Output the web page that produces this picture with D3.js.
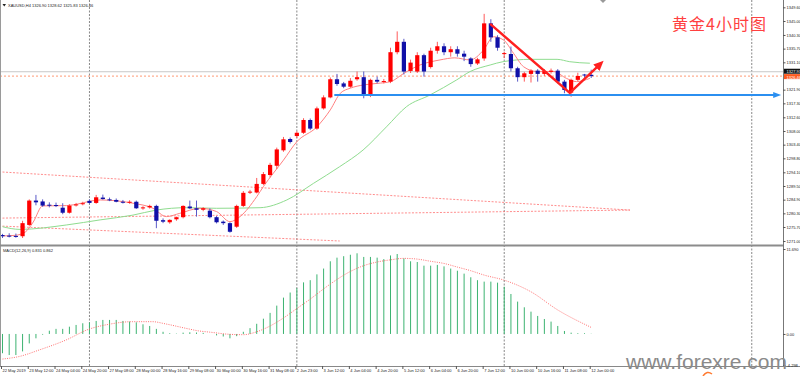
<!DOCTYPE html>
<html>
<head>
<meta charset="utf-8">
<script src="https://cdnjs.cloudflare.com/ajax/libs/d3/7.8.5/d3.min.js"></script>
<style>
  body { margin: 0; background: #fff; }
  svg { display: block; }
</style>
</head>
<body>
<div id="chart"></div>
<script>
// XAUUSD H4 candles, one value per bar
var opens = [
  1273.0, 1272.8, 1272.7, 1272.6, 1276.4, 1284.6, 1284.3, 1283.2, 1283.1, 1282.2,
  1280.5, 1283.0, 1283.4, 1284.5, 1283.8, 1285.6, 1285.0, 1284.8, 1284.2, 1284.0,
  1284.2, 1282.1, 1282.3, 1282.8, 1278.0, 1277.3, 1278.3, 1279.0, 1282.6, 1282.0,
  1281.5, 1281.2, 1279.0, 1277.5, 1277.0, 1275.8, 1282.8, 1287.4, 1287.3, 1290.2,
  1293.2, 1296.3, 1301.5, 1305.3, 1306.3, 1307.4, 1311.7, 1308.8, 1315.6, 1319.3,
  1325.4, 1324.0, 1322.9, 1325.4, 1326.1, 1320.1, 1325.2, 1324.5, 1324.6, 1334.5,
  1338.0, 1328.2, 1328.0, 1333.5, 1329.5, 1335.0, 1336.5, 1334.5, 1335.5, 1334.0,
  1332.4, 1330.7, 1332.4, 1344.2, 1339.5, 1334.1, 1333.9, 1329.1, 1326.1, 1327.2,
  1328.3, 1327.2, 1327.9, 1328.3, 1324.6, 1320.9, 1325.2, 1327.0, 1326.90
];
var highs = [
  1273.4, 1273.6, 1273.5, 1277.8, 1285.0, 1286.5, 1285.0, 1284.0, 1283.9, 1283.7,
  1283.4, 1283.8, 1284.2, 1285.0, 1286.5, 1286.6, 1285.6, 1285.3, 1284.8, 1284.7,
  1284.6, 1282.7, 1283.2, 1283.2, 1278.6, 1278.3, 1279.2, 1283.0, 1284.6, 1284.6,
  1282.4, 1282.0, 1279.4, 1277.9, 1277.3, 1283.2, 1287.8, 1288.2, 1292.2, 1294.2,
  1297.3, 1302.4, 1306.0, 1305.8, 1307.9, 1312.3, 1312.2, 1316.2, 1320.0, 1326.0,
  1327.2, 1324.5, 1325.8, 1328.0, 1328.0, 1325.6, 1326.3, 1325.5, 1336.0, 1341.5,
  1339.0, 1332.0, 1334.5, 1334.0, 1336.0, 1338.0, 1337.5, 1336.5, 1336.5, 1335.0,
  1332.8, 1332.6, 1347.4, 1345.6, 1340.2, 1334.7, 1336.4, 1329.6, 1327.9, 1328.8,
  1328.8, 1328.8, 1329.0, 1328.8, 1325.2, 1325.6, 1327.6, 1327.2, 1328.62
];
var lows = [
  1272.0, 1272.2, 1272.1, 1272.0, 1276.0, 1283.0, 1282.5, 1282.3, 1282.4, 1280.0,
  1280.2, 1282.6, 1283.0, 1283.5, 1283.5, 1284.9, 1284.4, 1284.0, 1283.6, 1283.5,
  1281.8, 1281.5, 1281.9, 1275.3, 1277.0, 1276.8, 1277.8, 1278.6, 1281.8, 1279.2,
  1281.0, 1278.6, 1276.9, 1276.4, 1273.8, 1275.4, 1282.4, 1286.8, 1287.0, 1289.8,
  1292.4, 1295.2, 1301.0, 1303.8, 1305.6, 1307.0, 1308.3, 1308.4, 1315.2, 1319.0,
  1323.2, 1322.4, 1322.5, 1324.9, 1319.0, 1319.4, 1324.0, 1324.0, 1324.1, 1333.8,
  1327.0, 1327.5, 1327.5, 1326.3, 1329.0, 1334.0, 1333.5, 1333.0, 1333.0, 1331.5,
  1329.6, 1330.2, 1331.6, 1338.0, 1335.0, 1332.5, 1328.0, 1324.6, 1324.6, 1324.3,
  1324.6, 1326.5, 1327.3, 1324.0, 1320.7, 1319.5, 1324.8, 1325.9, 1325.83
];
var closes = [
  1272.6, 1272.5, 1272.4, 1277.0, 1284.6, 1284.0, 1282.9, 1283.0, 1283.0, 1280.5,
  1282.9, 1283.3, 1283.7, 1283.8, 1285.7, 1285.1, 1284.7, 1284.2, 1284.0, 1284.2,
  1282.0, 1282.3, 1282.8, 1277.8, 1277.5, 1278.1, 1279.0, 1282.8, 1282.0, 1281.5,
  1282.0, 1279.0, 1277.3, 1277.0, 1274.1, 1282.8, 1287.2, 1287.6, 1290.2, 1293.5,
  1296.6, 1301.8, 1305.2, 1304.3, 1307.4, 1311.7, 1308.8, 1315.6, 1319.3, 1325.4,
  1323.8, 1322.9, 1324.9, 1326.1, 1320.1, 1325.2, 1324.6, 1324.8, 1334.5, 1338.0,
  1328.0, 1331.0, 1333.5, 1328.0, 1335.0, 1336.5, 1334.5, 1335.5, 1334.0, 1333.0,
  1330.5, 1332.1, 1344.2, 1339.5, 1336.0, 1334.2, 1329.1, 1326.1, 1327.4, 1328.3,
  1327.2, 1328.1, 1328.3, 1324.6, 1321.8, 1325.2, 1326.5, 1326.8, 1326.46
];

// moving averages, sampled by bar index
var fastMaIdx = [0, 1.9, 3.4, 4.6, 6, 9.6, 14.6, 19.5, 22.5, 24.5, 26.5, 29.5, 32, 34, 35.5, 38, 39, 42, 44, 47, 49, 50.5, 52, 54, 56, 58, 60, 62.4, 65.4, 67.6, 69.9, 71.9, 73.4, 74.9, 76.4, 77.9, 79.9, 82.4, 84.3, 85.8, 87.8];
var fastMaVal = [1272.7, 1272.9, 1274.0, 1277.4, 1282.8, 1282.9, 1284.8, 1283.7, 1282.0, 1279.2, 1280.3, 1282.0, 1280.9, 1277.5, 1279.2, 1285.9, 1289.3, 1298.2, 1304.4, 1309.4, 1315.1, 1320.7, 1322.4, 1323.5, 1324.0, 1324.6, 1327.4, 1330.2, 1331.9, 1332.6, 1331.9, 1335.2, 1339.7, 1338.6, 1334.1, 1329.6, 1328.0, 1328.0, 1325.7, 1324.6, 1325.7];
var slowMaIdx = [0, 2.6, 9.6, 14.6, 19.5, 23, 27.5, 32, 38.5, 42.5, 46.5, 50.4, 53.9, 57.4, 60.4, 63.9, 67.9, 69.9, 72.9, 74.8, 78.9, 82.9, 84.8, 87.8];
var slowMaVal = [1275.8, 1274.9, 1276.4, 1278.1, 1279.7, 1281.4, 1282.2, 1282.0, 1282.2, 1284.8, 1290.4, 1296.0, 1301.6, 1309.4, 1316.2, 1320.1, 1325.2, 1328.0, 1330.2, 1331.3, 1332.1, 1332.1, 1331.3, 1330.8];

// MACD(12,26,9)
var macdHist = [
  -2.65, -2.9, -2.9, -2.4, -1.3, -0.6, -0.1, 0.45, 0.7, 0.7,
  1.0, 1.24, 1.47, 1.56, 1.79, 1.93, 1.93, 1.93, 1.79, 1.7,
  1.6, 1.33, 1.1, 0.7, 0.3, 0.1, 0.05, 0.18, 0.23, 0.2,
  0.15, 0.0, -0.2, -0.35, -0.6, -0.3, 0.3, 0.8, 1.4, 2.1,
  2.9, 3.9, 5.0, 5.7, 6.3, 7.1, 7.4, 8.2, 9.0, 10.0,
  10.5, 10.7, 10.9, 11.1, 10.6, 10.6, 10.5, 10.3, 10.8, 11.0,
  10.4, 10.0, 9.9, 9.4, 9.4, 9.5, 9.3, 9.0, 8.7, 8.3,
  7.8, 7.4, 7.2, 7.2, 7.06, 6.5, 5.5, 4.45, 3.67, 3.07,
  2.48, 2.06, 1.7, 1.1, 0.41, 0.18, 0.1, 0.1, 0.03
];
var signalIdx = [0, 2.5, 5.5, 9.5, 12.9, 15.9, 19.4, 22.4, 24.4, 27.4, 29.4, 31, 34, 36, 38, 40, 42, 44, 46, 48, 50, 52, 54, 56, 58, 60, 62, 64, 66, 68, 70, 72, 75, 79, 83, 88];
var signalVal = [-3.45, -3.1, -2.2, -0.83, 0.65, 1.33, 1.69, 1.69, 1.38, 0.78, 0.41, 0.25, -0.05, -0.1, 0.3, 1.1, 2.2, 3.5, 4.8, 6.2, 7.5, 8.6, 9.4, 9.9, 10.2, 10.4, 10.3, 10.0, 9.7, 9.2, 8.7, 8.1, 7.4, 5.8, 3.3, 0.9];

// axis labels
var timeLabels = ['22 May 2019', '23 May 12:00', '24 May 04:00', '24 May 20:00', '27 May 08:00', '28 May 00:00',
  '28 May 16:00', '29 May 08:00', '30 May 00:00', '30 May 16:00', '31 May 08:00', '2 Jun 23:00',
  '3 Jun 12:00', '4 Jun 04:00', '4 Jun 20:00', '5 Jun 12:00', '6 Jun 04:00', '6 Jun 20:00',
  '7 Jun 12:00', '10 Jun 00:00', '10 Jun 16:00', '11 Jun 08:00', '12 Jun 00:00'];
var priceTicks = [1349.60, 1345.00, 1340.30, 1335.70, 1331.10, 1321.90, 1317.30, 1312.60, 1308.00, 1303.40,
  1298.80, 1294.10, 1289.50, 1284.90, 1280.30, 1275.70, 1271.00];
var macdTicks = [11.69, 0, -4.298];
var macdTickText = ['11.690', '0.00', '-4.298'];
var separators = [13, 44, 75, 112];

// drawn objects
var trendFrom = [[0, 1294.2], [0, 1278.7], [0, 1276.0]];
var trendTo = [[93.8, 1281.4], [93.8, 1281.4], [50.4, 1271.0]];
var supportPrice = 1320.1;
var supportSpan = [49.6, 115.5];
var arrowIdx = [72.9, 84.8, 89.1];
var arrowPrice = [1344.0, 1320.8, 1330.0];
var markerPrice = 1327.93;
var bidPrice = 1326.46;

var width = 800;
var height = 376;
var plotRight = 783;
var mainBottom = 245;
var macdBottom = 366;
var bull = '#ff0000';
var bear = '#1010a8';

var svg = d3.select('#chart').append('svg')
  .attr('width', width)
  .attr('height', height)
  .style('font-family', "'Liberation Sans', Arial, sans-serif");

var x = d3.scaleLinear().domain([0, 88]).range([2.5, 591.2]);
var y = d3.scaleLinear().domain([1269.65, 1352.06]).range([mainBottom, 0]);
var ym = d3.scaleLinear().domain([-4.298, 11.69]).range([365.2, 249]);

var defs = svg.append('defs');
defs.append('clipPath').attr('id', 'clip-main')
  .append('rect').attr('x', 1).attr('y', 0).attr('width', plotRight - 1).attr('height', mainBottom);
defs.append('clipPath').attr('id', 'clip-macd')
  .append('rect').attr('x', 1).attr('y', mainBottom + 1).attr('width', plotRight - 1).attr('height', macdBottom - mainBottom - 1);

defs.append('marker')
  .attr('id', 'head-blue')
  .attr('markerUnits', 'userSpaceOnUse')
  .attr('markerWidth', 10).attr('markerHeight', 10)
  .attr('refX', 2).attr('refY', 5)
  .attr('orient', 'auto')
  .append('path').attr('d', 'M0,2 L8,5 L0,8 Z').style('fill', '#2b8ff0');
defs.append('marker')
  .attr('id', 'head-red')
  .attr('markerUnits', 'userSpaceOnUse')
  .attr('markerWidth', 12).attr('markerHeight', 12)
  .attr('refX', 3).attr('refY', 6)
  .attr('orient', 'auto')
  .append('path').attr('d', 'M0,1.5 L10,6 L0,10.5 Z').style('fill', '#ff2020');

// period separators
svg.append('g').selectAll('line')
  .data(separators)
  .enter()
  .append('line')
  .attr('x1', function (d) { return x(d); })
  .attr('x2', function (d) { return x(d); })
  .attr('y1', 0)
  .attr('y2', macdBottom)
  .style('stroke', '#7a7a7a')
  .style('stroke-width', 0.9)
  .style('stroke-dasharray', '2,1.5');

var main = svg.append('g').attr('clip-path', 'url(#clip-main)');

// price lines
main.append('line')
  .attr('x1', 0).attr('x2', plotRight)
  .attr('y1', y(markerPrice)).attr('y2', y(markerPrice))
  .style('stroke', '#c8c8c8');
main.append('line')
  .attr('x1', 0).attr('x2', plotRight)
  .attr('y1', y(bidPrice)).attr('y2', y(bidPrice))
  .style('stroke', '#ff7f50')
  .style('stroke-width', 0.8)
  .style('stroke-dasharray', '2,2');

// triangle lines
main.append('g').selectAll('line')
  .data(trendFrom)
  .enter()
  .append('line')
  .attr('x1', function (d) { return x(d[0]); })
  .attr('y1', function (d) { return y(d[1]); })
  .attr('x2', function (d, i) { return x(trendTo[i][0]); })
  .attr('y2', function (d, i) { return y(trendTo[i][1]); })
  .style('stroke', '#ff7070')
  .style('stroke-width', 0.8)
  .style('stroke-dasharray', '2,1.5');

// moving averages
var maLine = d3.line()
  .x(function (d) { return x(d[0]); })
  .y(function (d) { return y(d[1]); })
  .curve(d3.curveMonotoneX);
main.append('path')
  .datum(d3.zip(slowMaIdx, slowMaVal))
  .attr('d', maLine)
  .style('fill', 'none')
  .style('stroke', '#8fdc8f')
  .style('stroke-width', 1);
main.append('path')
  .datum(d3.zip(fastMaIdx, fastMaVal))
  .attr('d', maLine)
  .style('fill', 'none')
  .style('stroke', '#ff8080')
  .style('stroke-width', 1);

// candles
var candles = main.append('g').selectAll('g')
  .data(d3.range(opens.length))
  .enter()
  .append('g');
candles.append('line')
  .attr('x1', function (i) { return x(i); })
  .attr('x2', function (i) { return x(i); })
  .attr('y1', function (i) { return y(highs[i]); })
  .attr('y2', function (i) { return y(lows[i]); })
  .style('stroke', function (i) { return closes[i] >= opens[i] ? '#ff5a5a' : '#5a5ac8'; })
  .style('stroke-width', 1);
candles.append('rect')
  .attr('x', function (i) { return x(i) - 2.1; })
  .attr('width', 4.2)
  .attr('y', function (i) { return y(Math.max(opens[i], closes[i])); })
  .attr('height', function (i) { return Math.max(1, Math.abs(y(opens[i]) - y(closes[i]))); })
  .style('fill', function (i) { return closes[i] >= opens[i] ? bull : bear; });

// support line and arrows
main.append('line')
  .attr('x1', x(supportSpan[0])).attr('x2', x(supportSpan[1]))
  .attr('y1', y(supportPrice)).attr('y2', y(supportPrice))
  .style('stroke', '#2b8ff0')
  .style('stroke-width', 2.2)
  .attr('marker-end', 'url(#head-blue)');
main.append('path')
  .datum(d3.zip(arrowIdx, arrowPrice))
  .attr('d', d3.line().x(function (d) { return x(d[0]); }).y(function (d) { return y(d[1]); }))
  .style('fill', 'none')
  .style('stroke', '#ff2020')
  .style('stroke-width', 2.4)
  .style('stroke-linejoin', 'miter')
  .attr('marker-end', 'url(#head-red)');

// MACD window
var macd = svg.append('g').attr('clip-path', 'url(#clip-macd)');
macd.selectAll('line.hist')
  .data(macdHist)
  .enter()
  .append('line')
  .attr('class', 'hist')
  .attr('x1', function (d, i) { return x(i); })
  .attr('x2', function (d, i) { return x(i); })
  .attr('y1', ym(0))
  .attr('y2', function (d) { return ym(d); })
  .style('stroke', '#3cb371')
  .style('stroke-width', 1);
macd.append('path')
  .datum(d3.zip(signalIdx, signalVal))
  .attr('d', d3.line()
    .x(function (d) { return x(d[0]); })
    .y(function (d) { return ym(d[1]); })
    .curve(d3.curveMonotoneX))
  .style('fill', 'none')
  .style('stroke', '#ff6060')
  .style('stroke-width', 0.9)
  .style('stroke-dasharray', '1,1.3');

// frame
svg.append('line').attr('x1', 0.5).attr('x2', 0.5).attr('y1', 0).attr('y2', macdBottom)
  .style('stroke', '#9a9a9a');
svg.append('line').attr('x1', plotRight + 0.5).attr('x2', plotRight + 0.5).attr('y1', 0).attr('y2', macdBottom)
  .style('stroke', '#777');
svg.append('line').attr('x1', 0).attr('x2', plotRight).attr('y1', mainBottom + 0.5).attr('y2', mainBottom + 0.5)
  .style('stroke', '#8c8c8c').style('stroke-width', 2);
svg.append('line').attr('x1', 0).attr('x2', width).attr('y1', macdBottom + 0.5).attr('y2', macdBottom + 0.5)
  .style('stroke', '#888');

// chart shift mark
svg.append('path').attr('d', 'M600,0 L606,0 L603,3 Z').style('fill', '#999');

// price scale
var gy = svg.append('g')
  .attr('transform', 'translate(' + plotRight + ',0)')
  .call(d3.axisRight(y).tickValues(priceTicks).tickSize(2.5).tickFormat(d3.format('.2f')));
gy.select('.domain').remove();
gy.selectAll('line').style('stroke', '#555');
gy.selectAll('text').attr('x', 3.5).style('font-size', '4px').style('fill', '#222')
  .style('font-family', "'Liberation Sans', Arial, sans-serif");

// current price labels
svg.append('rect').attr('x', plotRight + 1).attr('y', y(markerPrice) - 3).attr('width', 17).attr('height', 5)
  .style('fill', '#111');
svg.append('text').attr('x', plotRight + 3.5).attr('y', y(markerPrice) + 1.4).text(d3.format('.2f')(markerPrice))
  .style('font-size', '4px').style('fill', '#fff');
svg.append('rect').attr('x', plotRight + 1).attr('y', y(bidPrice) - 2).attr('width', 17).attr('height', 5)
  .style('fill', '#ff5a1e');
svg.append('text').attr('x', plotRight + 3.5).attr('y', y(bidPrice) + 2.4).text(d3.format('.2f')(bidPrice))
  .style('font-size', '4px').style('fill', '#fff');

// MACD scale
var gm = svg.append('g')
  .attr('transform', 'translate(' + plotRight + ',0)')
  .call(d3.axisRight(ym).tickValues(macdTicks).tickSize(2.5).tickFormat(function (d, i) { return macdTickText[i]; }));
gm.select('.domain').remove();
gm.selectAll('line').style('stroke', '#555');
gm.selectAll('text').attr('x', 3.5).style('font-size', '4px').style('fill', '#222')
  .style('font-family', "'Liberation Sans', Arial, sans-serif");

// time scale
var gx = svg.append('g')
  .attr('transform', 'translate(0,' + macdBottom + ')')
  .call(d3.axisBottom(x)
    .tickValues(d3.range(timeLabels.length).map(function (i) { return i * 4; }))
    .tickSize(3)
    .tickFormat(function (d, i) { return timeLabels[i]; }));
gx.select('.domain').remove();
gx.selectAll('line').attr('transform', 'translate(-1.5,0)').style('stroke', '#555');
gx.selectAll('text')
  .attr('text-anchor', 'start')
  .attr('x', -0.5)
  .attr('y', 3)
  .style('font-size', '4px')
  .style('fill', '#222')
  .style('font-family', "'Liberation Sans', Arial, sans-serif");

// captions
svg.append('path').attr('d', 'M2.5,4 L6,4 L4.25,6.5 Z').style('fill', '#222');
svg.append('text').attr('x', 8).attr('y', 6.6)
  .text('XAUUSD,H4  1326.90 1328.62 1325.83 1326.46')
  .style('font-size', '4px').style('fill', '#222');
svg.append('text').attr('x', 3).attr('y', 252)
  .text('MACD(12,26,9) 0.831 0.862')
  .style('font-size', '4px').style('fill', '#222');

svg.append('text').attr('x', 672).attr('y', 30)
  .text('黄金4小时图')
  .style('font-family', "'Noto Sans CJK SC', sans-serif")
  .style('font-size', '16px')
  .style('letter-spacing', '1px')
  .style('fill', '#ff4040');

svg.append('text').attr('x', 626).attr('y', 369)
  .text('www.forexre.com')
  .style('font-size', '21px')
  .style('fill', '#8a8a8a');
svg.append('path').attr('d', 'M703,376 Q707,370 712,374')
  .style('fill', 'none').style('stroke', '#ff7a30').style('stroke-width', 1.5);
</script>
</body>
</html>
